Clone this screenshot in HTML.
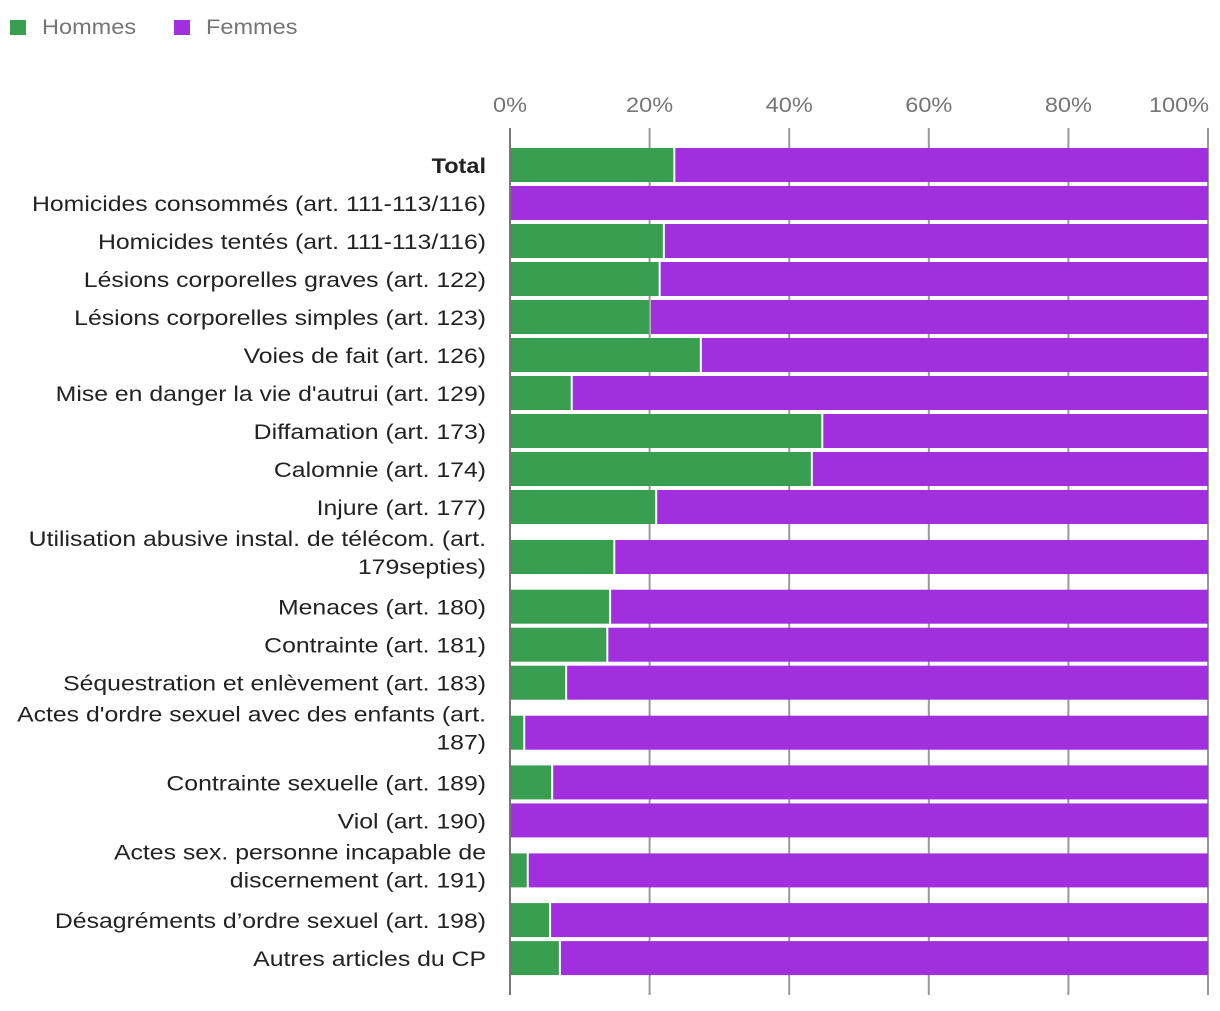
<!DOCTYPE html>
<html><head><meta charset="utf-8"><style>
body{margin:0;background:#fff;width:1220px;height:1006px;overflow:hidden;font-family:"Liberation Sans",sans-serif}
</style></head><body>
<svg id="chart" width="1220" height="1006" xmlns="http://www.w3.org/2000/svg" font-family="Liberation Sans, sans-serif">
<g>
<rect x="10" y="20" width="16" height="15" fill="#3a9e50"/>
<text class="sc" x="42" y="34" font-size="21" fill="#757575">Hommes</text>
<rect x="174" y="20" width="16" height="15" fill="#a22fde"/>
<text class="sc" x="206" y="34" font-size="21" fill="#757575">Femmes</text>
</g>
<g id="grid"></g><g id="bars"></g><g id="labels"></g>
</svg>
<script>
const categories=[["Total"],["Homicides consommés (art. 111-113/116)"],["Homicides tentés (art. 111-113/116)"],["Lésions corporelles graves (art. 122)"],["Lésions corporelles simples (art. 123)"],["Voies de fait (art. 126)"],["Mise en danger la vie d'autrui (art. 129)"],["Diffamation (art. 173)"],["Calomnie (art. 174)"],["Injure (art. 177)"],["Utilisation abusive instal. de télécom. (art.","179septies)"],["Menaces (art. 180)"],["Contrainte (art. 181)"],["Séquestration et enlèvement (art. 183)"],["Actes d'ordre sexuel avec des enfants (art.","187)"],["Contrainte sexuelle (art. 189)"],["Viol (art. 190)"],["Actes sex. personne incapable de","discernement (art. 191)"],["Désagréments d’ordre sexuel (art. 198)"],["Autres articles du CP"]];
const hommes=[23.4,0,21.9,21.3,19.9,27.2,8.7,44.6,43.1,20.8,14.8,14.2,13.8,7.9,1.9,5.9,0,2.4,5.6,7.0];
const femmes=hommes.map(h=>100-h);
const ticks=[0,20,40,60,80,100];
const NS="http://www.w3.org/2000/svg";
const x0=510,x1=1208;
const xs=v=>x0+(x1-x0)*v/100;
function mk(tag,attrs,parent){const e=document.createElementNS(NS,tag);for(const k in attrs)e.setAttribute(k,attrs[k]);parent.appendChild(e);return e;}
const grid=document.getElementById('grid'),bars=document.getElementById('bars'),labels=document.getElementById('labels');
ticks.forEach((t,i)=>{
 const l=mk('line',{x1:xs(t),x2:xs(t),y1:128,y2:995,stroke:i==0?'#777':'#999','stroke-width':2},grid);
 
 
 const tx=mk('text',{x:i==5?xs(t)-29:xs(t),y:112,'font-size':21,fill:'#757575','text-anchor':'middle',class:'sc'},grid);
 tx.textContent=t+'%';
 
 
});
let y=146;
categories.forEach((c,i)=>{
 const dbl=c.length>1;
 const h=dbl?61.7:38;
 const cy=y+h/2;
 const bt=dbl?y+14:cy-17,bh=34;
 const g=mk('rect',{x:x0+1,y:bt,width:Math.max(0,xs(hommes[i])-x0-1),height:bh,fill:'#3a9e50'},bars);
 
 
 const fx=hommes[i]>0?xs(hommes[i])+2:x0+1;
 const f=mk('rect',{x:fx,y:bt,width:Math.max(0,xs(100)-fx),height:bh,fill:'#a22fde'},bars);
 
 
 c.forEach((line,j)=>{
  const ty=dbl?cy-11+(j*28):cy+8;
  const t=mk('text',{x:486,y:ty,'font-size':21,fill:'#222','text-anchor':'end',class:i==0?'sc':'sl'},labels);
  if(i==0)t.setAttribute('font-weight','bold');
  t.textContent=line;
  
  
 });
 y+=h;
});
document.querySelectorAll('text.sc,text.sl').forEach(t=>{
 const w=t.getComputedTextLength();
 const k=t.classList.contains('sl')?1.18:1.12;
 if(w>0){t.setAttribute('textLength',(w*k).toFixed(1));t.setAttribute('lengthAdjust','spacingAndGlyphs');}
});
</script>
</body></html>
